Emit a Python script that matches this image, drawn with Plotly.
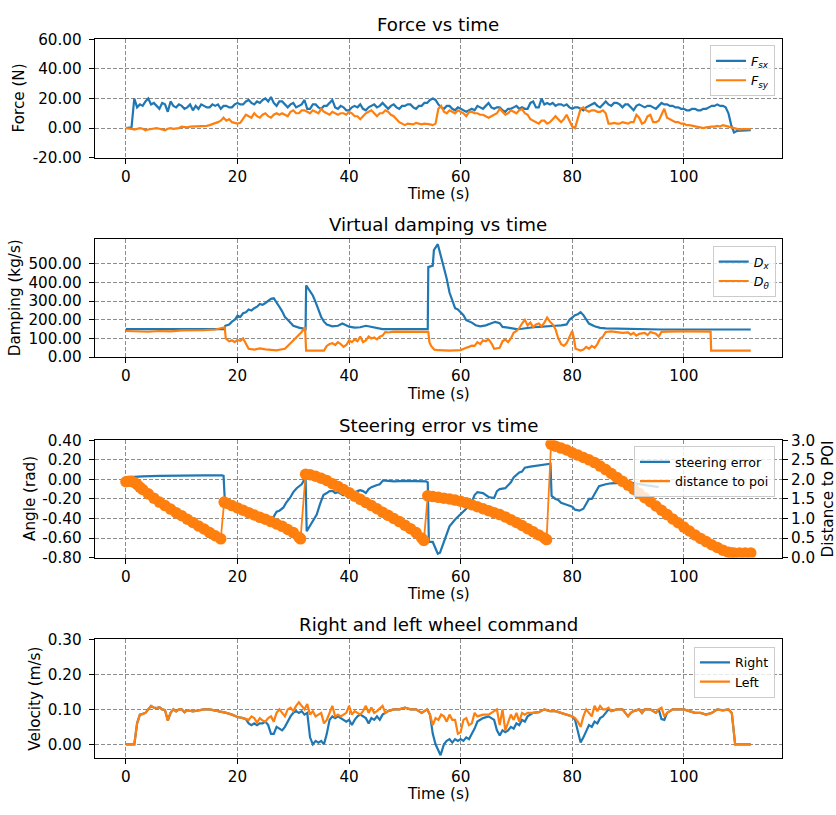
import plotly.graph_objects as go

BLUE = "#1f77b4"
ORANGE = "#ff7f0e"
FONT = "DejaVu Sans"

# ---------------------------------------------------------------- data
# Force sensor readings, sampled every 0.5 s from 0 to 112 s
force_t = [i * 0.5 for i in range(225)]
force_sx = [
    0, 0, 0.5, 20, 14, 16, 15, 18, 20, 16,          # 0 - 4.5 s
    17, 15, 13, 17, 16, 11, 18, 15, 14, 16,         # 5 - 9.5
    15, 13, 14, 16, 12, 15, 13, 16, 15, 14,         # 10 - 14.5
    14, 16, 15, 16, 13, 15, 15, 14, 14, 16,         # 15 - 19.5
    17, 16, 16, 18, 19, 17, 16, 18, 17, 19,         # 20 - 24.5
    20, 18, 21, 17, 15, 18, 18, 16, 14, 16,         # 25 - 29.5
    17, 14, 15, 16, 19, 13, 13, 16, 16, 14,         # 30 - 34.5
    13, 15, 15, 17, 19, 14, 13, 15, 14, 12,         # 35 - 39.5
    12, 14, 15, 14, 16, 13, 12, 14, 15, 16,         # 40 - 44.5
    14, 15, 17, 15, 13, 15, 16, 14, 13, 15,         # 45 - 49.5
    15, 16, 16, 14, 13, 15, 15, 17, 17, 19,         # 50 - 54.5
    20, 19, 16, 14, 13, 15, 15, 13, 12, 14,         # 55 - 59.5
    13, 12, 11, 12, 13, 12, 15, 14, 13, 15,         # 60 - 64.5
    17, 14, 13, 14, 14, 12, 11, 13, 13, 14,         # 65 - 69.5
    15, 13, 14, 13, 13, 17, 18, 14, 14, 20,         # 70 - 74.5
    16, 17, 16, 17, 15, 16, 16, 15, 16, 14,         # 75 - 79.5
    13, 14, 14, 13, 12, 14, 15, 16, 17, 15,         # 80 - 84.5
    14, 16, 18, 16, 15, 17, 17, 16, 14, 16,         # 85 - 89.5
    16, 14, 12, 15, 16, 15, 14, 15, 15, 14,         # 90 - 94.5
    13, 15, 17, 16, 16, 15, 15, 14, 14, 13,         # 95 - 99.5
    13, 12, 12, 13, 13, 12, 12, 13, 13, 14,         # 100 - 104.5
    15, 15, 16, 15, 15, 14, 10, 2, -3, -2,          # 105 - 109.5
    -2, -1.8, -1.5, -1.5, -1.5,                     # 110 - 112
]
force_sy = [
    0, 0, -0.5, -1, -0.5, 0, -0.5, -1.5, -1, -0.5,
    -0.5, 0, -0.5, -1, -1.5, -0.5, 0, -0.5, -0.5, 0,
    1, 0.5, 0.5, 1, 1, 1.5, 1.5, 1, 1, 1.5,
    2, 2.5, 3, 4, 5, 7, 5, 6, 4, 3.5,
    3, 3.5, 6, 9, 8, 7, 10, 8, 7, 9,
    10, 8, 7, 9, 10, 9, 10, 9, 8, 11,
    12, 10, 10, 12, 12, 11, 10, 12, 11, 10,
    13, 11, 10, 9, 11, 10, 9, 10, 10, 9,
    11, 10, 8, 8, 6, 8, 10, 11, 12, 10,
    8, 10, 10, 12, 11, 9, 8, 6, 4, 3,
    2, 3, 3, 2.5, 3.5, 3, 2.5, 3, 3, 2.5,
    2, 3, 13, 15, 11, 10, 12, 11, 10, 12,
    11, 10, 8, 11, 11, 10, 10, 9, 9, 8,
    7, 8, 9, 10, 13, 11, 9, 10, 12, 11,
    10, 12, 13, 10, 9, 6, 5, 4, 3, 5,
    5, 3, 4, 6, 8, 6, 4, 6, 9, 5,
    1, 0, 7, 13, 14, 12, 11, 12, 12, 11,
    11, 12, 10, 3, 3, 3.5, 3, 3, 4, 3.5,
    3, 4, 4, 9, 7, 3, 4, 8, 9, 4,
    4, 5, 9, 13, 7, 6, 5, 4, 4, 3,
    3, 2, 2, 1.5, 1, 0.5, 0.5, 0, 0.5, 1,
    1, 1, 1.5, 1, 2, 1.5, 1, 0.5, 0, -0.5,
    -1, -0.7, -0.7, -0.7, -0.7,
]

# Virtual damping, (time s, value kg/s)
damping_x = [
    (0, 150), (17.7, 150), (17.8, 168), (18.5, 175), (19, 190), (19.5, 200),
    (20, 222), (20.5, 215), (21, 235), (21.5, 240), (22, 255), (22.5, 250),
    (23, 262), (23.5, 270), (24, 285), (24.5, 280), (25, 290), (25.5, 300),
    (26, 312), (26.5, 315), (27, 295), (27.5, 270), (28, 245), (28.5, 215),
    (29, 200), (29.5, 185), (30, 168), (31, 158), (32, 152), (32.2, 150),
    (32.3, 384), (32.6, 370), (33, 350), (33.5, 330), (34, 295), (34.5, 250),
    (35, 215), (35.5, 190), (36, 175), (37, 165), (38, 168), (38.8, 180),
    (39.5, 170), (40, 163), (41, 158), (42, 160), (43, 168), (43.5, 165),
    (44, 158), (45, 153), (46, 150), (54.1, 150), (54.2, 482), (55, 490),
    (55.2, 573), (55.9, 605), (56.3, 560), (56.8, 494), (57.5, 420), (58, 346),
    (58.5, 300), (59, 262), (59.5, 255), (60, 241), (60.5, 225), (61, 198),
    (62, 185), (62.7, 171), (63.5, 165), (64.5, 170), (65.5, 180), (66.2, 189),
    (67, 182), (67.5, 162), (68.5, 158), (70, 150), (71, 152), (72, 157),
    (73, 160), (74, 162), (75, 163), (76, 165), (77, 168), (78, 170),
    (79, 175), (79.5, 200), (80, 215), (80.5, 225), (81, 230), (81.5, 241),
    (82, 225), (82.5, 200), (83, 180), (84, 165), (85, 157), (86, 154),
    (90, 152), (95.8, 152), (96, 148), (112, 148),
]
damping_theta = [
    (0, 140), (2, 138), (4, 136), (6, 140), (8, 138), (10, 143), (12, 142),
    (14, 145), (16, 148), (17.3, 155), (17.7, 160), (17.9, 100), (18.5, 85),
    (19, 90), (19.5, 80), (20, 92), (20.5, 88), (21, 100), (21.5, 70),
    (22, 45), (23, 40), (24, 47), (25, 42), (26, 38), (27, 36), (28, 42),
    (28.5, 45), (29, 60), (29.5, 75), (30, 90), (30.5, 105), (31, 120),
    (31.5, 135), (32.1, 160), (32.3, 35), (35.5, 35), (36, 60), (36.5, 70),
    (37, 75), (37.5, 65), (38, 80), (38.5, 70), (39, 55), (39.5, 65),
    (40, 90), (40.5, 80), (41, 95), (41.5, 85), (42, 110), (42.5, 80),
    (43, 90), (43.5, 110), (44, 100), (44.5, 105), (45, 95), (45.5, 110),
    (46, 115), (46.5, 135), (47, 132), (48, 137), (50, 135), (52, 136),
    (54, 135), (54.2, 135), (54.4, 80), (54.7, 60), (55.3, 40), (56, 37),
    (58, 35), (60, 38), (60.5, 42), (61, 50), (61.5, 55), (62, 62),
    (62.5, 60), (63, 80), (63.5, 70), (64, 90), (64.5, 85), (65, 95),
    (65.5, 75), (66, 45), (67, 50), (67.5, 85), (68, 95), (68.5, 80),
    (69, 100), (69.5, 130), (70, 140), (70.5, 155), (71, 180), (71.5, 200),
    (72, 170), (72.5, 185), (73, 160), (73.5, 175), (74, 180), (74.5, 165),
    (75, 185), (75.5, 212), (76, 190), (76.5, 175), (77, 150), (77.5, 100),
    (78, 70), (78.5, 60), (79, 75), (79.5, 110), (80, 140), (80.3, 100),
    (80.6, 45), (81.5, 35), (82, 40), (82.5, 55), (83, 45), (83.5, 60),
    (84, 50), (84.5, 70), (85, 100), (85.5, 110), (86, 135), (87, 138),
    (88, 135), (89, 130), (90, 132), (90.5, 120), (91, 130), (91.5, 115),
    (92, 125), (93, 130), (93.5, 118), (94, 135), (95, 125), (95.5, 110),
    (96, 135), (97, 137), (100, 138), (102, 137), (104.8, 137), (104.9, 35),
    (112, 35),
]

# Steering error (rad) and distance to the point of interest (m)
steering_error = [
    (0, 0.02), (1, 0.025), (3, 0.03), (6, 0.035), (10, 0.04), (14, 0.04),
    (17.2, 0.04), (17.5, 0.035), (17.7, -0.19), (18.5, -0.21), (19, -0.22),
    (19.5, -0.24), (20, -0.27), (22, -0.31), (24, -0.35), (25.2, -0.38),
    (26, -0.42), (26.3, -0.4), (27, -0.33), (27.5, -0.32), (28.2, -0.29),
    (28.7, -0.24), (29.4, -0.19), (30, -0.13), (30.6, -0.09), (31, -0.07),
    (31.5, -0.05), (32.1, 0.01), (32.2, 0.02), (32.4, -0.53), (33, -0.47),
    (33.5, -0.42), (34.2, -0.36), (34.8, -0.25), (35.4, -0.16), (36, -0.14),
    (36.5, -0.12), (37.1, -0.12), (37.5, -0.14), (38, -0.13), (38.9, -0.16),
    (39.5, -0.12), (40, -0.12), (40.5, -0.11), (41, -0.14), (41.5, -0.12),
    (42, -0.11), (42.5, -0.12), (43, -0.14), (43.5, -0.1), (44, -0.08),
    (44.9, -0.06), (45.5, -0.05), (46.1, -0.01), (48, -0.02), (50, -0.015),
    (53.8, -0.02), (54.1, -0.03), (54.3, -0.64), (55, -0.64), (55.5, -0.7),
    (55.9, -0.76), (56.3, -0.75), (56.6, -0.7), (57, -0.63), (57.5, -0.56),
    (58, -0.48), (59, -0.41), (60, -0.36), (61, -0.3), (62, -0.23),
    (62.5, -0.16), (63, -0.13), (64, -0.14), (65, -0.18), (66, -0.19),
    (66.5, -0.12), (67, -0.1), (68, -0.09), (68.5, -0.06), (69, -0.03),
    (69.5, 0.02), (70, 0.05), (70.5, 0.07), (71, 0.08), (71.5, 0.12),
    (72.5, 0.13), (74, 0.14), (75, 0.15), (76.1, 0.16), (76.3, -0.17),
    (77, -0.2), (77.5, -0.21), (78, -0.24), (79, -0.26), (80, -0.28),
    (80.5, -0.31), (81.3, -0.32), (82, -0.3), (82.5, -0.25), (83, -0.2),
    (83.5, -0.2), (84, -0.15), (84.8, -0.07), (86, -0.05), (87, -0.04),
    (90, -0.03), (92, -0.05), (94, -0.07), (95.5, -0.08),
]
distance_poi = [
    (0, 1.94), (0.5, 1.95), (1, 1.95), (1.5, 1.92), (2, 1.87), (2.5, 1.8),
    (3, 1.74), (4, 1.63), (5, 1.52), (6, 1.42), (7, 1.33), (8, 1.24),
    (9, 1.15), (10, 1.07), (11, 0.98), (12, 0.9), (13, 0.81), (14, 0.73),
    (15, 0.64), (16, 0.56), (17, 0.48),
    (17.6, 1.42), (18, 1.39), (19, 1.33), (20, 1.27), (21, 1.21), (22, 1.15),
    (23, 1.09), (24, 1.03), (25, 0.98), (26, 0.92), (27, 0.86), (28, 0.8),
    (29, 0.72), (30, 0.64), (31, 0.52), (31.3, 0.48),
    (32.2, 2.13), (33, 2.12), (34, 2.08), (35, 2.03), (36, 1.97), (37, 1.89),
    (38, 1.82), (39, 1.74), (40, 1.66), (41, 1.57), (42, 1.49), (43, 1.41),
    (44, 1.33), (45, 1.25), (46, 1.16), (47, 1.08), (48, 1.0), (49, 0.92),
    (50, 0.83), (51, 0.74), (52, 0.64), (53, 0.5), (53.4, 0.44),
    (54.1, 1.58), (55, 1.56), (56, 1.54), (57, 1.52), (58, 1.5), (59, 1.47),
    (60, 1.44), (61, 1.4), (62, 1.35), (63, 1.3), (64, 1.25), (65, 1.2),
    (66, 1.15), (67, 1.1), (68, 1.04), (69, 0.97), (70, 0.9), (71, 0.82),
    (72, 0.74), (73, 0.66), (74, 0.58), (75, 0.5), (75.4, 0.46),
    (76.2, 2.9), (77, 2.85), (78, 2.8), (79, 2.75), (80, 2.68), (81, 2.62),
    (82, 2.56), (83, 2.5), (84, 2.43), (85, 2.34), (86, 2.25), (87, 2.15),
    (88, 2.05), (89, 1.95), (90, 1.85), (91, 1.75), (92, 1.64), (93, 1.53),
    (94, 1.43), (95, 1.32), (96, 1.21), (97, 1.1), (98, 0.99), (99, 0.89),
    (100, 0.78), (101, 0.68), (102, 0.58), (103, 0.49), (104, 0.41),
    (105, 0.33), (106, 0.26), (107, 0.19), (108, 0.14), (108.5, 0.12),
    (109, 0.12), (110, 0.12), (111, 0.12), (112, 0.12),
]

# Wheel velocity commands (m/s)
wheel_right = [
    (0, 0), (1.5, 0), (2, 0.06), (2.5, 0.085), (3, 0.087), (3.5, 0.09),
    (4, 0.1), (4.5, 0.11), (5, 0.105), (5.5, 0.104), (6, 0.106), (6.5, 0.1),
    (7, 0.098), (7.5, 0.068), (8, 0.09), (8.5, 0.1), (9, 0.094), (9.5, 0.1),
    (10, 0.1), (10.5, 0.092), (11, 0.098), (11.5, 0.095), (12, 0.094),
    (13, 0.097), (14, 0.1), (15, 0.1), (16, 0.097), (17, 0.095), (18, 0.09),
    (19, 0.085), (20, 0.078), (21, 0.075), (21.5, 0.072), (22, 0.06),
    (22.5, 0.055), (23, 0.06), (23.5, 0.055), (24, 0.06), (24.5, 0.06),
    (25, 0.065), (25.5, 0.055), (26, 0.03), (26.5, 0.03), (27, 0.05),
    (27.5, 0.045), (28, 0.04), (28.5, 0.05), (29, 0.065), (29.5, 0.08),
    (30, 0.09), (30.5, 0.095), (31, 0.09), (31.5, 0.095), (32, 0.085),
    (32.5, 0.09), (33, 0.02), (33.5, 0.0), (34, 0.01), (34.5, 0.005),
    (35, 0.01), (35.5, 0.0), (36, 0.03), (36.5, 0.07), (37, 0.08),
    (37.5, 0.075), (38, 0.08), (38.5, 0.075), (39, 0.07), (39.5, 0.065),
    (40, 0.07), (40.5, 0.055), (41, 0.07), (41.5, 0.08), (42, 0.085),
    (42.5, 0.08), (43, 0.075), (43.5, 0.06), (44, 0.075), (44.5, 0.07),
    (45, 0.08), (45.5, 0.07), (46, 0.085), (46.5, 0.09), (47, 0.095),
    (48, 0.1), (49, 0.1), (50, 0.105), (51, 0.1), (52, 0.1), (53, 0.09),
    (53.5, 0.095), (54, 0.1), (54.5, 0.085), (55, 0.03), (55.5, 0.0),
    (56, -0.02), (56.4, -0.031), (57, 0.0), (57.5, 0.01), (58, 0.015),
    (58.5, 0.005), (59, 0.015), (59.5, 0.01), (60, 0.015), (60.5, 0.01),
    (61, 0.02), (61.5, 0.015), (62, 0.03), (62.5, 0.045), (63, 0.065),
    (64, 0.075), (65, 0.08), (66, 0.07), (66.5, 0.04), (67, 0.025),
    (67.5, 0.04), (68, 0.035), (68.5, 0.04), (69, 0.05), (69.5, 0.045),
    (70, 0.06), (70.5, 0.055), (71, 0.07), (71.5, 0.065), (72, 0.08),
    (73, 0.09), (74, 0.092), (75, 0.1), (76, 0.095), (77, 0.095), (78, 0.09),
    (79, 0.085), (80, 0.08), (80.5, 0.07), (81, 0.04), (81.5, 0.005),
    (82, 0.02), (82.5, 0.04), (83, 0.055), (83.5, 0.05), (84, 0.065),
    (84.5, 0.06), (85, 0.075), (85.5, 0.08), (86, 0.09), (86.5, 0.1),
    (87, 0.095), (88, 0.1), (89, 0.1), (89.5, 0.09), (90, 0.08), (90.5, 0.09),
    (91, 0.095), (92, 0.1), (92.5, 0.09), (93, 0.1), (94, 0.1), (95, 0.09),
    (95.5, 0.1), (96, 0.072), (96.5, 0.07), (97, 0.09), (98, 0.1), (99, 0.1),
    (100, 0.1), (101, 0.095), (102, 0.09), (103, 0.09), (104, 0.085),
    (105, 0.09), (106, 0.1), (107, 0.097), (108, 0.1), (108.6, 0.09),
    (108.9, 0.04), (109.2, 0.0), (112, 0.0),
]
wheel_left = [
    (0, 0), (1.5, 0), (2, 0.06), (2.5, 0.085), (3, 0.087), (3.5, 0.09),
    (4, 0.1), (4.5, 0.11), (5, 0.105), (5.5, 0.104), (6, 0.106), (6.5, 0.1),
    (7, 0.098), (7.5, 0.068), (8, 0.09), (8.5, 0.1), (9, 0.094), (9.5, 0.1),
    (10, 0.1), (10.5, 0.092), (11, 0.098), (11.5, 0.095), (12, 0.094),
    (13, 0.097), (14, 0.1), (15, 0.1), (16, 0.097), (17, 0.095), (18, 0.09),
    (19, 0.085), (20, 0.078), (21, 0.075), (21.5, 0.072), (22, 0.07),
    (22.5, 0.08), (23, 0.075), (23.5, 0.062), (24, 0.075), (24.5, 0.068),
    (25, 0.065), (25.5, 0.075), (26, 0.08), (26.5, 0.065), (27, 0.09),
    (27.5, 0.1), (28, 0.09), (28.5, 0.08), (29, 0.1), (29.5, 0.105),
    (30, 0.095), (30.5, 0.11), (31, 0.12), (31.5, 0.11), (32, 0.1),
    (32.5, 0.115), (33, 0.085), (33.5, 0.095), (34, 0.08), (34.5, 0.085),
    (35, 0.09), (35.5, 0.06), (36, 0.07), (36.5, 0.09), (37, 0.11),
    (37.5, 0.08), (38, 0.085), (38.5, 0.08), (39, 0.085), (39.5, 0.09),
    (40, 0.11), (40.5, 0.085), (41, 0.095), (41.5, 0.09), (42, 0.085),
    (42.5, 0.095), (43, 0.11), (43.5, 0.09), (44, 0.105), (44.5, 0.09),
    (45, 0.095), (46, 0.11), (46.5, 0.09), (47, 0.095), (48, 0.1), (49, 0.1),
    (50, 0.105), (51, 0.1), (52, 0.1), (53, 0.09), (53.5, 0.095), (54, 0.1),
    (54.5, 0.085), (55, 0.055), (55.5, 0.075), (56, 0.07), (56.5, 0.085),
    (57, 0.08), (57.5, 0.065), (58, 0.085), (58.5, 0.07), (59, 0.07),
    (59.5, 0.03), (60, 0.035), (60.5, 0.07), (61, 0.075), (61.5, 0.055),
    (62, 0.06), (62.5, 0.09), (63, 0.08), (64, 0.085), (65, 0.085),
    (66, 0.095), (66.5, 0.1), (67, 0.055), (67.5, 0.1), (68, 0.04),
    (68.5, 0.065), (69, 0.085), (69.5, 0.07), (70, 0.09), (70.5, 0.065),
    (71, 0.09), (71.5, 0.085), (72, 0.09), (73, 0.09), (74, 0.092), (75, 0.1),
    (76, 0.095), (77, 0.095), (78, 0.09), (79, 0.085), (80, 0.08),
    (80.5, 0.075), (81, 0.065), (81.5, 0.05), (82, 0.08), (82.5, 0.1),
    (83, 0.09), (83.5, 0.08), (84, 0.11), (84.5, 0.095), (85, 0.11),
    (85.5, 0.1), (86, 0.1), (86.5, 0.105), (87, 0.095), (88, 0.1), (89, 0.1),
    (89.5, 0.09), (90, 0.08), (90.5, 0.09), (91, 0.095), (92, 0.1),
    (92.5, 0.09), (93, 0.1), (94, 0.1), (95, 0.09), (95.5, 0.1), (96, 0.105),
    (96.5, 0.08), (97, 0.09), (98, 0.1), (99, 0.1), (100, 0.1), (101, 0.095),
    (102, 0.09), (103, 0.09), (104, 0.085), (105, 0.09), (106, 0.1),
    (107, 0.097), (108, 0.1), (108.6, 0.09), (108.9, 0.04), (109.2, 0.0),
    (112, 0.0),
]

time_ticks = [0, 20, 40, 60, 80, 100]
force_ticks = [-20, 0, 20, 40, 60]
damping_ticks = [0, 100, 200, 300, 400, 500]
angle_ticks = [-0.8, -0.6, -0.4, -0.2, 0.0, 0.2, 0.4]
distance_ticks = [0.0, 0.5, 1.0, 1.5, 2.0, 2.5, 3.0]
velocity_ticks = [0.0, 0.1, 0.2, 0.3]

# ---------------------------------------------------------------- layout geometry (pixels)
W, H = 836, 815
X_LEFT, X_RIGHT = 94.7, 782.0
PANELS = [(31.0, 152.0), (235.7, 356.0), (441.0, 561.0), (644.7, 765.7)]


def px(x):
    return x / W


def py(y):
    return 1 - y / H


def split(points):
    return [p[0] for p in points], [p[1] for p in points]


def labels(vals, fmt):
    return [fmt.format(v).replace("\u2212", "-") for v in vals]


fig = go.Figure()


def line(x, y, color, name, xa, ya, legend, showlegend=True):
    fig.add_trace(go.Scatter(
        x=x, y=y, mode="lines", name=name, xaxis=xa, yaxis=ya,
        line=dict(color=color, width=2.2), legend=legend,
        showlegend=showlegend, hoverinfo="skip"))


# Force vs time
line(force_t, force_sx, BLUE, "<i>F</i><sub><i>sx</i></sub>", "x", "y", "legend")
line(force_t, force_sy, ORANGE, "<i>F</i><sub><i>sy</i></sub>", "x", "y", "legend")

# Virtual damping vs time
t, v = split(damping_x)
line(t, v, BLUE, "<i>D</i><sub><i>x</i></sub>", "x2", "y2", "legend2")
t, v = split(damping_theta)
line(t, v, ORANGE, "<i>D</i><sub><i>θ</i></sub>", "x2", "y2", "legend2")

# Steering error vs time (twin axis for the distance)
t, v = split(steering_error)
line(t, v, BLUE, "steering error", "x3", "y3", "legend3")
t, v = split(distance_poi)
fig.add_trace(go.Scatter(
    x=t, y=v, mode="lines+markers", xaxis="x3", yaxis="y5",
    line=dict(color=ORANGE, width=1.8),
    marker=dict(color=ORANGE, size=11.5, line=dict(width=0)),
    showlegend=False, hoverinfo="skip"))
fig.add_trace(go.Scatter(
    x=[None], y=[None], mode="lines", name="distance to poi",
    xaxis="x3", yaxis="y5", line=dict(color=ORANGE, width=2.2),
    legend="legend3"))

# Right and left wheel command
t, v = split(wheel_right)
line(t, v, BLUE, "Right", "x4", "y4", "legend4")
t, v = split(wheel_left)
line(t, v, ORANGE, "Left", "x4", "y4", "legend4")

tick_font = dict(family=FONT, size=15.2, color="black")
axis_base = dict(
    showline=True, linecolor="black", linewidth=1.1, mirror=True,
    ticks="outside", ticklen=5, tickwidth=1.1, tickcolor="black",
    showgrid=True, gridcolor="#8c8c8c", gridwidth=0.8, griddash="4px,2px",
    zeroline=False, tickfont=tick_font, fixedrange=True,
)

y_specs = [
    ([-20, 60], force_ticks, "{:.2f}"),
    ([0, 630], damping_ticks, "{:.2f}"),
    ([-0.8, 0.4], angle_ticks, "{:.2f}"),
    ([-0.0385, 0.3], velocity_ticks, "{:.2f}"),
]

layout = dict(
    width=W, height=H, autosize=False,
    margin=dict(l=0, r=0, t=0, b=0),
    paper_bgcolor="white", plot_bgcolor="white",
    font=dict(family=FONT, color="black"),
    annotations=[],
)

for i, ((top, bottom), (yr, yt, fmt)) in enumerate(zip(PANELS, y_specs), start=1):
    sfx = "" if i == 1 else str(i)
    layout["xaxis" + sfx] = dict(
        axis_base, domain=[px(X_LEFT), px(X_RIGHT)], range=[-5.6, 117.6],
        tickvals=time_ticks, ticktext=[str(v) for v in time_ticks],
        anchor="y" + sfx)
    layout["yaxis" + sfx] = dict(
        axis_base, domain=[py(bottom), py(top)], range=yr,
        tickvals=yt, ticktext=labels(yt, fmt), anchor="x" + sfx,
        ticklabelstandoff=4)

layout["yaxis5"] = dict(
    axis_base, overlaying="y3", side="right", anchor="x3", range=[0, 3],
    tickvals=distance_ticks, ticktext=labels(distance_ticks, "{:.1f}"),
    showgrid=False, mirror=False)

titles = ["Force vs time", "Virtual damping vs time",
          "Steering error vs time", "Right and left wheel command"]
ylabels = [("Force (N)", 19), ("Damping (kg/s)", 15),
           ("Angle (rad)", 30), ("Velocity (m/s)", 35)]
xmid = px((X_LEFT + X_RIGHT) / 2)
for (top, bottom), title, (ylab, ylx) in zip(PANELS, titles, ylabels):
    layout["annotations"].append(dict(
        text=title, x=xmid, y=py(top - 15.5), xref="paper", yref="paper",
        xanchor="center", yanchor="middle", showarrow=False,
        font=dict(family=FONT, size=18.2, color="black")))
    layout["annotations"].append(dict(
        text="Time (s)", x=xmid, y=py(bottom + 37.5), xref="paper", yref="paper",
        xanchor="center", yanchor="middle", showarrow=False,
        font=dict(family=FONT, size=15.2, color="black")))
    layout["annotations"].append(dict(
        text=ylab, x=px(ylx), y=py((top + bottom) / 2), xref="paper",
        yref="paper", xanchor="center", yanchor="middle", textangle=-90,
        showarrow=False, font=dict(family=FONT, size=15.2, color="black")))

top3, bottom3 = PANELS[2]
layout["annotations"].append(dict(
    text="Distance to POI", x=px(827.5), y=py((top3 + bottom3) / 2),
    xref="paper", yref="paper", xanchor="center", yanchor="middle",
    textangle=-90, showarrow=False,
    font=dict(family=FONT, size=15.2, color="black")))

legend_base = dict(
    xanchor="right", yanchor="top", bgcolor="rgba(255,255,255,0.8)",
    bordercolor="#cccccc", borderwidth=1, itemwidth=30, tracegroupgap=0,
    font=dict(family=FONT, size=12.6, color="black"))
layout["legend"] = dict(legend_base, x=px(775), y=py(37))
layout["legend2"] = dict(legend_base, x=px(775.7), y=py(242.3))
layout["legend3"] = dict(legend_base, x=px(775), y=py(447))
layout["legend4"] = dict(legend_base, x=px(775), y=py(652))

fig.update_layout(**layout)
fig.write_html("out.html")
